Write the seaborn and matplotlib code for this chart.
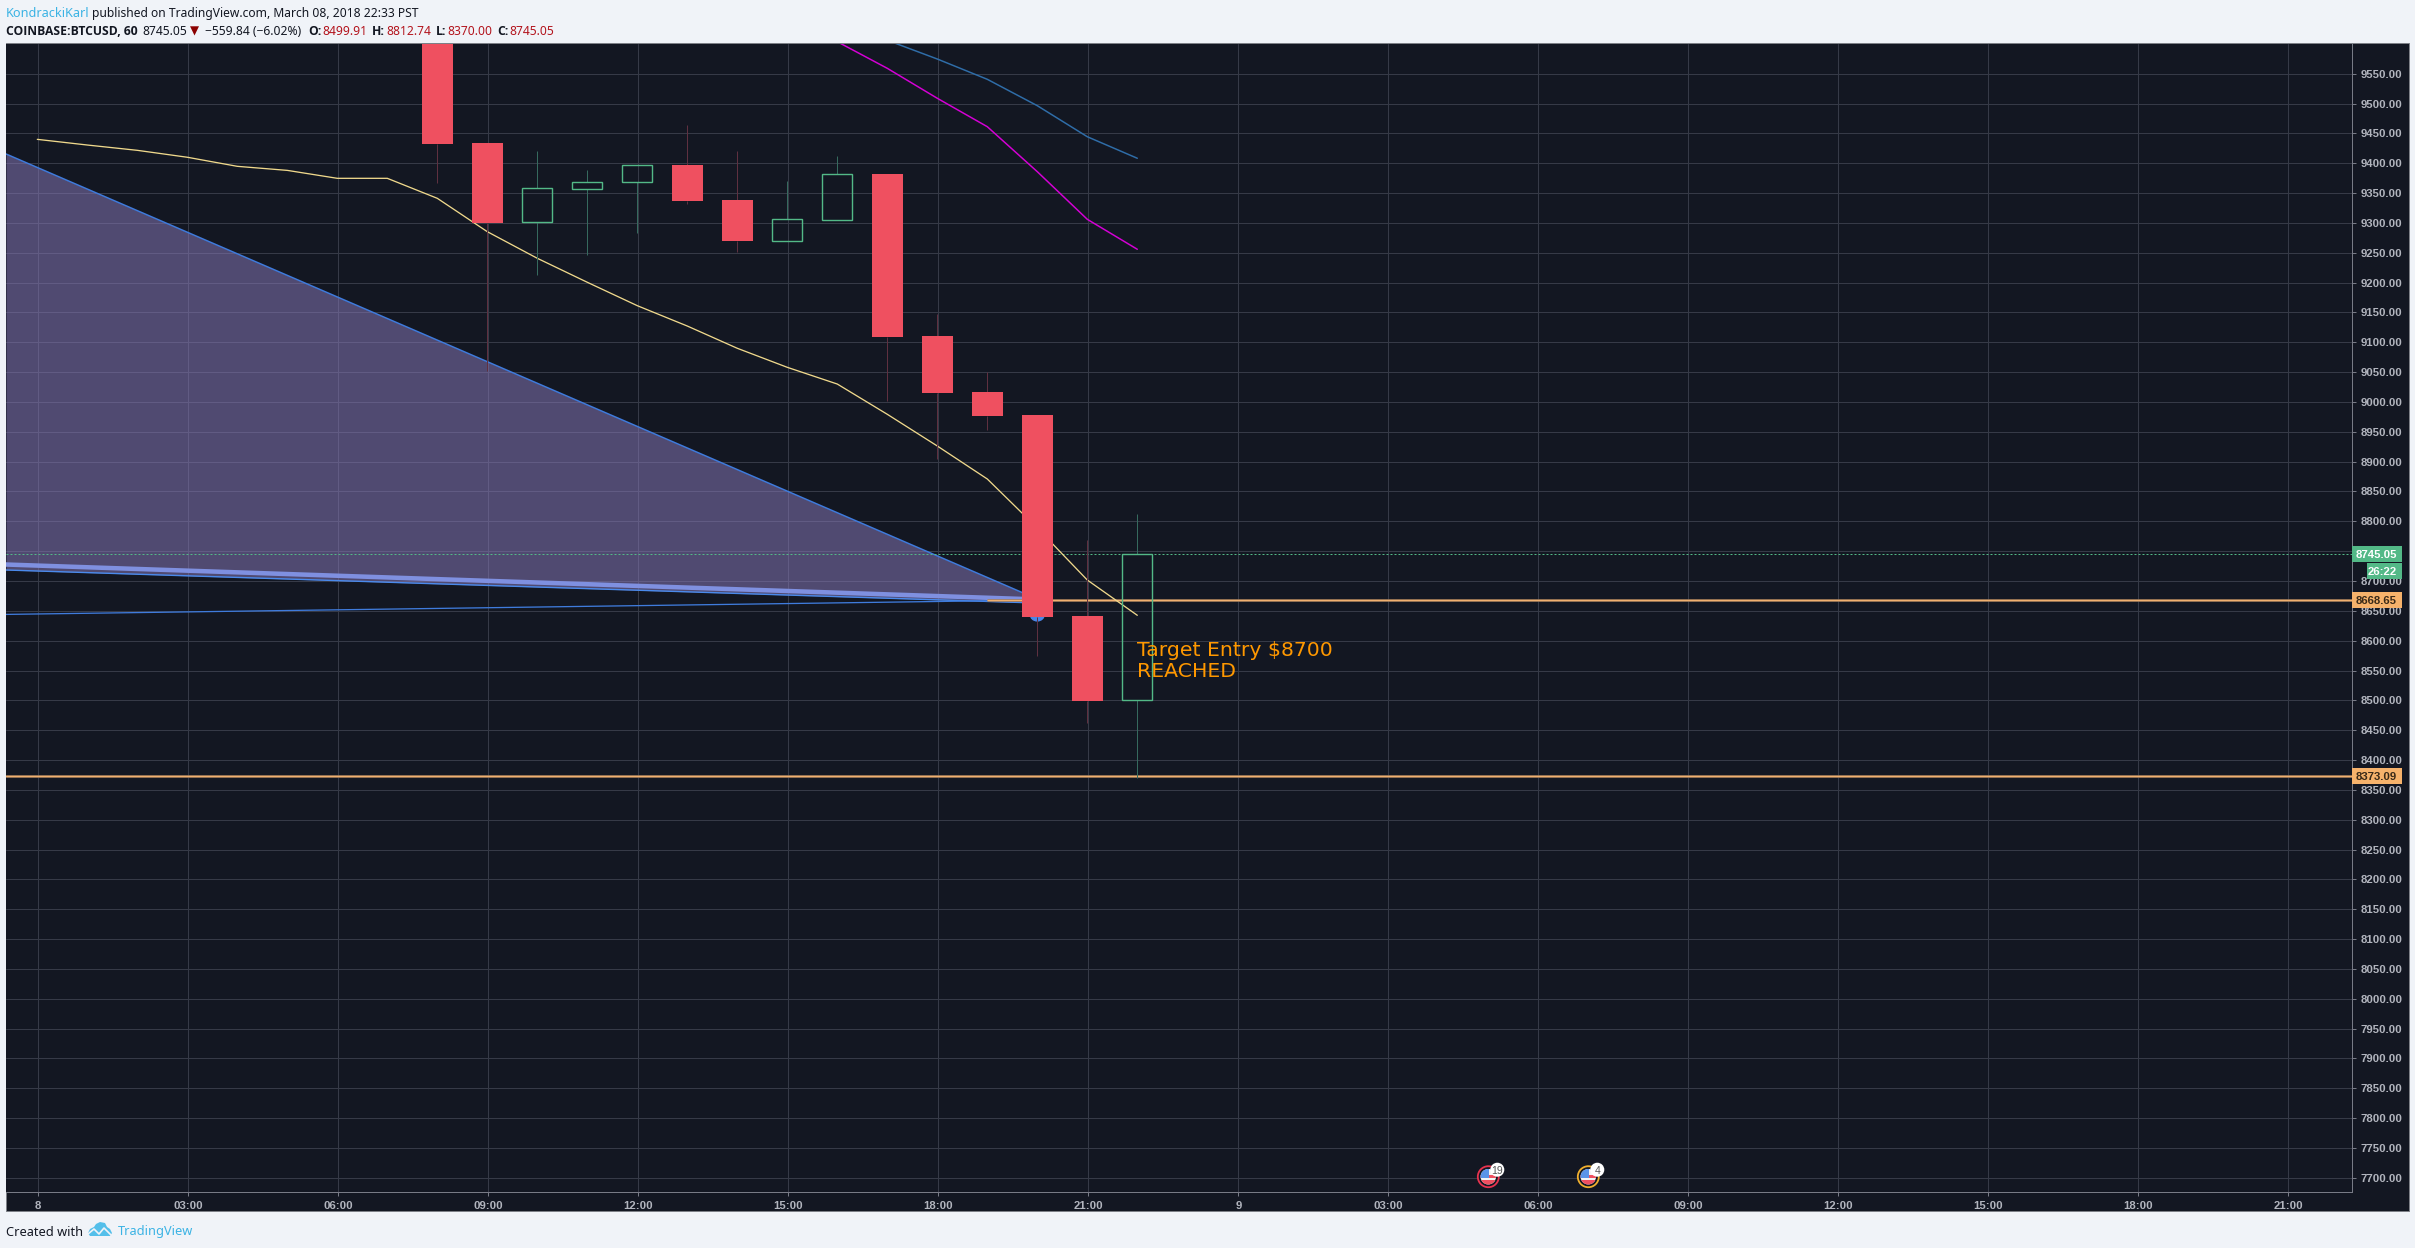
import numpy as np
import pandas as pd
import seaborn as sns
import matplotlib
matplotlib.use("Agg")
import matplotlib.pyplot as plt
from matplotlib.patches import Rectangle, Ellipse, Polygon
from matplotlib.transforms import IdentityTransform

# ---------- data ----------
candle_hours = list(range(8, 23))
opens  = [9700.0, 9433.9, 9301.0, 9356.3, 9368.0, 9397.0, 9338.4, 9270.0, 9305.4, 9382.0, 9110.5, 9016.7, 8978.0, 8641.3, 8499.91]
closes = [9432.2, 9300.3, 9358.0, 9368.0, 9396.5, 9336.7, 9269.7, 9306.0, 9381.4, 9109.3, 9015.5, 8976.4, 8640.0, 8499.4, 8745.05]
highs  = [9700.0, 9433.9, 9420.5, 9388.6, 9396.5, 9464.0, 9420.5, 9370.2, 9412.0, 9382.0, 9147.4, 9050.0, 8978.0, 8768.7, 8812.74]
lows   = [9367.4, 9052.3, 9212.7, 9246.7, 9283.6, 9332.0, 9251.2, 9270.0, 9305.4, 9002.0, 8905.0, 8953.5, 8575.0, 8462.5, 8370.0]

ma_yellow_hours = list(range(0, 23))
ma_yellow = [9440.0, 9430.5, 9421.6, 9410.0, 9394.8, 9388.0, 9374.7, 9374.7, 9341.2, 9285.3, 9240.7, 9200.5,
             9161.3, 9127.2, 9089.9, 9058.0, 9030.0, 8979.3, 8926.2, 8870.9, 8788.8, 8701.6, 8642.5]
ma_magenta_hours = [16, 17, 18, 19, 20, 21, 22]
ma_magenta = [9603.6, 9559.0, 9508.8, 9461.2, 9385.8, 9306.0, 9255.8]
ma_blue_hours = [17, 18, 19, 20, 21, 22]
ma_blue = [9606.0, 9574.6, 9540.6, 9496.4, 9444.4, 9408.3]

wedge_hours = [-0.646, 20.0]
wedge_upper = [9415.5, 8669.0]
wedge_mid   = [8727.6, 8669.0]
wedge_lower = [8718.4, 8663.0]
rising_line = [8644.0, 8668.0]

last_price = 8745.05
level_hi = 8668.65
level_lo = 8373.09
timer_label = "26:22"
timer_price = 8716.7

price_ticks = list(range(7700, 9551, 50))
time_ticks = list(range(0, 46, 3))
time_labels = ["8", "03:00", "06:00", "09:00", "12:00", "15:00", "18:00", "21:00",
               "9", "03:00", "06:00", "09:00", "12:00", "15:00", "18:00", "21:00"]
events = [(29, "19", "#e8334f"), (31, "4", "#f0b02e")]
event_price = 7701.8

# ---------- style ----------
W, H = 2415, 1248
BG = "#131722"; GRID = "#363a47"; AXC = "#787b86"; TXT = "#b2b5be"
RED = "#ef5060"; GREEN = "#53b987"; REDW = "#5f3040"; GREENW = "#366a5e"
PX = 0.72  # points per pixel at dpi 100

sns.set_theme(style="dark", rc={"axes.facecolor": BG, "figure.facecolor": "#f0f3f8"})
plt.rcParams["font.family"] = ["Noto Sans", "DejaVu Sans"]
plt.rcParams["axes.unicode_minus"] = True

fig = plt.figure(figsize=(W / 100, H / 100), dpi=100)
fig.patches.append(Rectangle((6 / W, 1 - 1211 / H), (2408.5 - 6) / W, (1211 - 43) / H, transform=fig.transFigure,
                             facecolor=BG, edgecolor="#7d8087", lw=1 * PX, figure=fig, zorder=-1))
ax = fig.add_axes([6 / W, 1 - 1192 / H, (2352 - 6) / W, (1192 - 43.5) / H])
ax.set_facecolor(BG)
ax.set_xlim(-0.646, 46.274)
ax.set_ylim(7676.2, 9600.6)
ax.set_axisbelow(True)
PXX, PXY = 50.0, 0.5968   # pixels per hour, pixels per price unit
off = -0.02               # candles sit a hair left of the grid

# grid / axes
ax.set_xticks(time_ticks); ax.set_xticklabels(time_labels)
ax.set_yticks(price_ticks); ax.set_yticklabels([f"{p:.2f}" for p in price_ticks])
ax.yaxis.tick_right()
ax.grid(True, color=GRID, lw=1 * PX)
for s in ("top", "left"):
    ax.spines[s].set_visible(False)
for s in ("right", "bottom"):
    ax.spines[s].set_color(AXC); ax.spines[s].set_linewidth(1 * PX)
ax.tick_params(axis="y", length=4 * PX, width=1 * PX, color=AXC, pad=3, labelcolor=TXT, right=True)
ax.tick_params(axis="x", length=4 * PX, width=1 * PX, color=AXC, pad=3.5, labelcolor=TXT, bottom=True)
for t in ax.get_xticklabels() + ax.get_yticklabels():
    t.set_fontfamily("Liberation Sans"); t.set_fontsize(8.2); t.set_fontweight("bold")

# wedge
wx = np.array(wedge_hours)
ax.fill_between(wx, wedge_upper, wedge_lower, color="#8d7dc0", alpha=0.5, lw=0, zorder=1.2)
sns.lineplot(x=wx, y=wedge_upper, ax=ax, color="#3f7bdc", lw=1.5 * PX, zorder=1.4, legend=False)
sns.lineplot(x=wx, y=wedge_mid, ax=ax, color="#7f90e0", lw=4.5 * PX, zorder=1.5, legend=False)
sns.lineplot(x=wx, y=wedge_lower, ax=ax, color="#4a8aec", lw=1.4 * PX, zorder=1.6, legend=False)
sns.lineplot(x=wx, y=rising_line, ax=ax, color="#3f7bdc", lw=1.3 * PX, zorder=1.6, legend=False)
ax.add_patch(Ellipse((20 + off, 8644.0), 14 / PXX, 13 / PXY, color="#4a86e8", zorder=1.7))

# horizontal levels
ax.axhline(last_price, color=GREEN, lw=1 * PX, ls=(0, (2, 2)), zorder=1.8)
ax.plot([19 + off, ax.get_xlim()[1]], [level_hi, level_hi], color="#a57e5a", lw=2.6 * PX, zorder=1.8, solid_capstyle="butt")
ax.plot([19 + off, ax.get_xlim()[1]], [level_hi, level_hi], color="#f0b070", lw=1.2 * PX, zorder=1.85, solid_capstyle="butt")
ax.axhline(level_lo, color="#a57e5a", lw=2.6 * PX, zorder=1.8)
ax.axhline(level_lo, color="#f0b070", lw=1.2 * PX, zorder=1.85)

# moving averages
sns.lineplot(x=np.array(ma_yellow_hours) + off, y=ma_yellow, ax=ax, color="#f0d98c", lw=1.3 * PX, zorder=2, legend=False)
sns.lineplot(x=np.array(ma_magenta_hours) + off, y=ma_magenta, ax=ax, color="#d500d5", lw=1.5 * PX, zorder=2, legend=False)
sns.lineplot(x=np.array(ma_blue_hours) + off, y=ma_blue, ax=ax, color="#2f6da8", lw=1.5 * PX, zorder=2, legend=False)

# candles
df = pd.DataFrame({"h": candle_hours, "o": opens, "c": closes, "hi": highs, "lo": lows})
df["x"] = df.h + off
up = df[df.c >= df.o]; dn = df[df.c < df.o]
ax.vlines(dn.x, dn.o, dn.hi, color=REDW, lw=1 * PX, zorder=2.6)
ax.vlines(dn.x, dn.lo, dn.c, color=REDW, lw=1 * PX, zorder=2.6)
ax.vlines(up.x, up.c, up.hi, color=GREENW, lw=1 * PX, zorder=2.6)
ax.vlines(up.x, up.lo, up.o, color=GREENW, lw=1 * PX, zorder=2.6)
ax.bar(dn.x, dn.c - dn.o, bottom=dn.o, width=31 / PXX, color=RED, lw=0, zorder=3)
ax.bar(up.x, up.c - up.o, bottom=up.o, width=30 / PXX, facecolor="none", edgecolor=GREEN, lw=1.4 * PX, zorder=3)

# annotation
ax.text(22 + off, 8583, "Target Entry $8700", color="#ff9800", fontsize=14.7, family="DejaVu Sans", va="center", ha="left", zorder=4)
ax.text(22 + off, 8548, "REACHED", color="#ff9800", fontsize=14.7, family="DejaVu Sans", va="center", ha="left", zorder=4)

# price labels on the axis
yt = ax.get_yaxis_transform()
def price_tag(price, label, fc, tc, x0=0.0, x1=50.0, hpx=16):
    ax.add_patch(Rectangle((1 + x0 / 2346, price - hpx / 2 / PXY), (x1 - x0) / 2346, hpx / PXY, transform=yt,
                           clip_on=False, facecolor=fc, lw=0, zorder=5))
    ax.text(1 + (x1 - 5) / 2346, price, label, transform=yt, clip_on=False, ha="right", va="center_baseline",
            color=tc, fontsize=8.2, family="Liberation Sans", weight="bold", zorder=6)
price_tag(last_price, f"{last_price:.2f}", GREEN, "#ffffff")
price_tag(timer_price, timer_label, GREEN, "#ffffff", x0=15)
price_tag(level_hi, f"{level_hi:.2f}", "#f6b26b", "#3a2a18")
price_tag(level_lo, f"{level_lo:.2f}", "#f6b26b", "#3a2a18")

# event flags
for h, n, ring in events:
    ax.add_patch(Ellipse((h, event_price), 21 / PXX, 21 / PXY, facecolor=BG, edgecolor=ring, lw=1.8 * PX, zorder=4))
    disc = Ellipse((h, event_price), 15.5 / PXX, 15.5 / PXY, facecolor="#f4f4f4", lw=0, zorder=4.1)
    ax.add_patch(disc)
    for y0, y1, c in [(-8, -3.5, "#ef5060"), (-1.5, 1.5, "#ef5060")]:
        r = Rectangle((h - 8 / PXX, event_price + y0 / PXY), 16 / PXX, (y1 - y0) / PXY, facecolor=c, lw=0, zorder=4.2)
        ax.add_patch(r); r.set_clip_path(disc)
    r = Rectangle((h - 8 / PXX, event_price - 1.5 / PXY), 9 / PXX, 9.5 / PXY, facecolor="#5a94e8", lw=0, zorder=4.25)
    ax.add_patch(r); r.set_clip_path(disc)
    bx, by = h + 9 / PXX, event_price + 7 / PXY
    ax.add_patch(Ellipse((bx, by), 14 / PXX, 14 / PXY, facecolor="white", lw=0, zorder=4.4))
    ax.text(bx, by, n, color="#555555", fontsize=7.5, family="Liberation Sans", ha="center", va="center_baseline", zorder=4.5)

# header / footer
def ftext(x, y, s, color="#131722", weight="normal", size=8.7, fam=("Noto Sans", "DejaVu Sans")):
    fig.text(x / W, 1 - y / H, s, color=color, weight=weight, fontsize=size, family=list(fam), ha="left", va="center_baseline")
BOLD = ("Open Sans", "DejaVu Sans")
VAL = "#b3141d"
ftext(6, 12, "KondrackiKarl", "#3bb3e4", size=9.1)
ftext(92.4, 12, "published on TradingView.com, March 08, 2018 22:33 PST")
ftext(6, 30, "COINBASE:BTCUSD, 60", weight="bold", size=8.7, fam=BOLD)
ftext(142, 30, "8745.05")
ftext(190, 30, "\u25bc", "#8b0000", size=8.5)
ftext(205, 30, "\u2212559.84 (\u22126.02%)")
for x, s, c, wt in [(308, "O:", "#131722", "bold"), (322, "8499.91", VAL, "normal"),
                    (372, "H:", "#131722", "bold"), (386, "8812.74", VAL, "normal"),
                    (436, "L:", "#131722", "bold"), (447, "8370.00", VAL, "normal"),
                    (497, "C:", "#131722", "bold"), (509, "8745.05", VAL, "normal")]:
    ftext(x, 30, s, c, wt, size=8.7, fam=BOLD if wt == "bold" else ("Noto Sans", "DejaVu Sans"))
ftext(6, 1230.5, "Created with", size=9.2)
ftext(118, 1230.5, "TradingView", "#3bb3e4", size=9.2)

# logo (pixel coordinates, y flipped)
def P(pts):
    return [(x, H - y) for x, y in pts]
logo = [(88, 1233), (90, 1229), (94, 1227), (96, 1224), (100, 1222), (105, 1223), (107, 1227), (110, 1229), (112, 1233), (110, 1236), (90, 1236)]
fig.patches.append(Polygon(P(logo), closed=True, facecolor="#54bfea", lw=0, transform=IdentityTransform(), figure=fig))
fig.lines.append(plt.Line2D(*zip(*P([(88, 1234), (94, 1229), (99, 1234), (104, 1228), (111, 1235)])), color="#f0f3f8", lw=1.2, transform=IdentityTransform(), figure=fig))

fig.savefig("out.png", dpi=100, facecolor=fig.get_facecolor())
